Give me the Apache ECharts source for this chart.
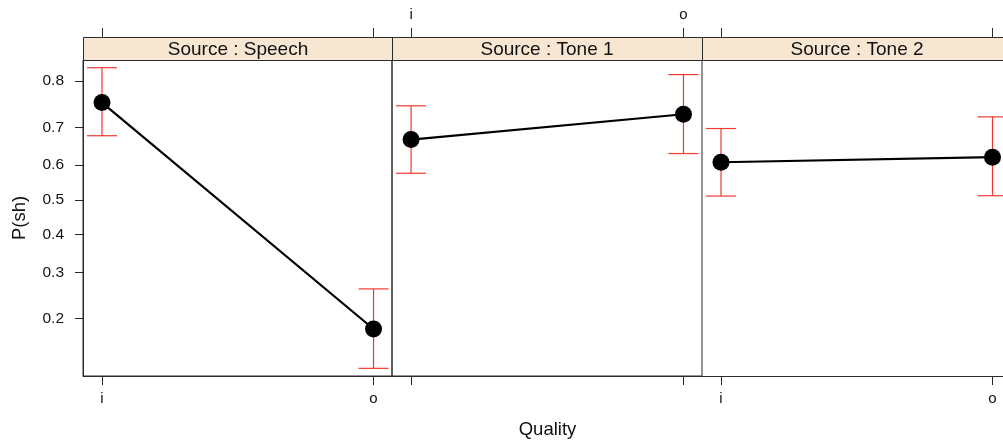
<!DOCTYPE html>
<html>
<head>
<meta charset="utf-8">
<script src="https://cdn.jsdelivr.net/npm/echarts@6/dist/echarts.min.js"></script>
<style>
html,body{margin:0;padding:0;background:#fff;}
#chart{width:1003px;height:443px;}
</style>
</head>
<body>
<div id="chart"></div>
<script>
// ---- data ----
const categories = ['i', 'o'];
const panels = ['Speech', 'Tone 1', 'Tone 2'];
const speechFit   = [0.757, 0.181];
const speechLower = [0.679, 0.1225];
const speechUpper = [0.824, 0.261];
const tone1Fit    = [0.669, 0.731];
const tone1Lower  = [0.577, 0.632];
const tone1Upper  = [0.750, 0.812];
const tone2Fit    = [0.608, 0.622];
const tone2Lower  = [0.511, 0.512];
const tone2Upper  = [0.697, 0.725];
const yTicks = [0.2, 0.3, 0.4, 0.5, 0.6, 0.7, 0.8];
const yRange = [0.1132, 0.8367];

const fits = [speechFit, tone1Fit, tone2Fit];
const lowers = [speechLower, tone1Lower, tone2Lower];
const uppers = [speechUpper, tone1Upper, tone2Upper];

const logit = p => Math.log(p / (1 - p));
const invlogit = v => 1 / (1 + Math.exp(-v));

const FONT = '"Liberation Sans", Arial, Helvetica, sans-serif';
const BORDER = '#2a2a2a';
const RED = '#f03a2e';
const STRIP = '#f7e6d2';

const panelLeft = [83, 392, 702];
const panelW = 310;
// visible widths (last panel is cut by the window edge)
const gridW = [309, 310, 301];
const xMax = [1.068, 1.068, 1.0387];
const panelTop = 60, panelH = 316;
const stripTop = 37;

const grids = [], xAxes = [], yAxes = [], series = [], graphics = [];

panels.forEach((name, k) => {
  grids.push({left: panelLeft[k], top: panelTop, width: gridW[k], height: panelH,
    show: k !== 2, borderColor: BORDER, borderWidth: 1, backgroundColor: 'transparent', containLabel: false});
  const catFmt = v => categories[Math.round(v)] || '';
  const ticks = categories.map((c, i) => i);
  // bottom axis
  xAxes.push({type: 'value', gridIndex: k, min: -0.07, max: xMax[k], position: 'bottom',
    axisLine: {show: true, onZero: false, lineStyle: {color: BORDER}},
    splitLine: {show: false},
    axisTick: {show: true, length: 9, customValues: ticks, lineStyle: {color: BORDER}},
    axisLabel: {show: k !== 1, margin: 15, customValues: ticks, formatter: catFmt,
      color: '#111', fontSize: 15, fontFamily: FONT}
  });
  // top axis (above the strip)
  xAxes.push({type: 'value', gridIndex: k, min: -0.07, max: xMax[k], position: 'top', offset: panelTop - stripTop,
    axisLine: {show: false, onZero: false},
    splitLine: {show: false},
    axisTick: {show: true, length: 9, customValues: ticks, lineStyle: {color: BORDER}},
    axisLabel: {show: k === 1, margin: 15, customValues: ticks, formatter: catFmt,
      color: '#111', fontSize: 15, fontFamily: FONT}
  });
  yAxes.push({type: 'value', gridIndex: k, min: logit(yRange[0]), max: logit(yRange[1]),
    axisLine: {show: k === 0, onZero: false, lineStyle: {color: BORDER}},
    splitLine: {show: false},
    axisTick: {show: k === 0, length: 8, customValues: yTicks.map(logit), lineStyle: {color: BORDER}},
    axisLabel: {show: k === 0, margin: 19, customValues: yTicks.map(logit),
      formatter: v => invlogit(v).toFixed(1), color: '#111', fontSize: 15.5, fontFamily: FONT}
  });

  const xb = 2 * k; // bottom x axis index
  series.push({
    type: 'custom', xAxisIndex: xb, yAxisIndex: k, z: 2, silent: true,
    data: categories.map((c, i) => [i, logit(lowers[k][i]), logit(uppers[k][i])]),
    renderItem: (params, api) => {
      const top = api.coord([api.value(0), api.value(2)]);
      const bot = api.coord([api.value(0), api.value(1)]);
      const w = 15;
      const st = {stroke: RED, lineWidth: 1.2};
      return {type: 'group', children: [
        {type: 'line', shape: {x1: top[0], y1: top[1], x2: bot[0], y2: bot[1]}, style: st},
        {type: 'line', shape: {x1: top[0] - w, y1: top[1], x2: top[0] + w, y2: top[1]}, style: st},
        {type: 'line', shape: {x1: bot[0] - w, y1: bot[1], x2: bot[0] + w, y2: bot[1]}, style: st}
      ]};
    }
  });
  series.push({
    type: 'line', xAxisIndex: xb, yAxisIndex: k, z: 5, silent: true,
    data: categories.map((c, i) => [i, logit(fits[k][i])]),
    symbol: 'circle', symbolSize: 17,
    lineStyle: {color: '#000', width: 2.2},
    itemStyle: {color: '#000'},
    animation: false
  });

  // strip
  graphics.push({type: 'rect', left: panelLeft[k], top: stripTop,
    shape: {width: panelW, height: panelTop - stripTop},
    style: {fill: STRIP, stroke: BORDER, lineWidth: 1}, z: 10});
  graphics.push({type: 'text', x: panelLeft[k] + panelW / 2, y: stripTop + (panelTop - stripTop) / 2 + 1,
    style: {text: 'Source : ' + name, fill: '#111', font: '19px ' + FONT, textAlign: 'center', textVerticalAlign: 'middle'}, z: 11});
});

graphics.push({type: 'text', x: 547.5, y: 430,
  style: {text: 'Quality', fill: '#111', font: '18.5px ' + FONT, textAlign: 'center', textVerticalAlign: 'middle'}});
graphics.push({type: 'text', x: 20, y: 218, rotation: Math.PI / 2,
  style: {text: 'P(sh)', fill: '#111', font: '18.5px ' + FONT, textAlign: 'center', textVerticalAlign: 'middle'}});

const chart = echarts.init(document.getElementById('chart'), null, {renderer: 'canvas'});
chart.setOption({
  animation: false,
  backgroundColor: '#fff',
  grid: grids,
  xAxis: xAxes,
  yAxis: yAxes,
  series: series,
  graphic: graphics
});
</script>
</body>
</html>
